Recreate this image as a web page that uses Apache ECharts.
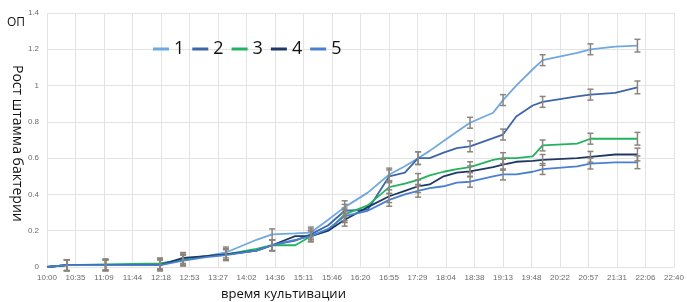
<!DOCTYPE html>
<html>
<head>
<meta charset="utf-8">
<script src="https://cdn.jsdelivr.net/npm/echarts@6/dist/echarts.min.js"></script>
<style>
  html, body { margin: 0; padding: 0; background: #fff; }
  #chart { width: 687px; height: 302px; }
</style>
</head>
<body>
<div id="chart"></div>
<script>
// время, минуты от 10:00
var times = [0, 24, 71, 137, 165, 193, 217, 254, 273, 301, 320, 341, 361, 389, 415,
             434, 450, 464, 481, 497, 513, 541, 553, 569, 589, 601, 643, 659, 689, 716];

var s1 = [0, 0.01, 0.01, 0.01, 0.04, 0.06, 0.08, 0.15, 0.18, 0.185, 0.19, 0.26, 0.33, 0.41, 0.51,
          0.555, 0.60, 0.64, 0.695, 0.745, 0.795, 0.85, 0.92, 1.0, 1.09, 1.14, 1.18, 1.20, 1.215, 1.22];
var s2 = [0, 0.01, 0.01, 0.015, 0.04, 0.06, 0.07, 0.09, 0.12, 0.145, 0.18, 0.23, 0.31, 0.316, 0.50,
          0.52, 0.60, 0.60, 0.63, 0.655, 0.665, 0.71, 0.73, 0.83, 0.89, 0.91, 0.94, 0.95, 0.96, 0.99];
var s3 = [0, 0.01, 0.015, 0.02, 0.04, 0.06, 0.07, 0.10, 0.12, 0.12, 0.17, 0.20, 0.29, 0.34, 0.44,
          0.46, 0.48, 0.505, 0.525, 0.54, 0.55, 0.59, 0.60, 0.60, 0.61, 0.67, 0.68, 0.707, 0.707, 0.707];
var s4 = [0, 0.01, 0.01, 0.01, 0.05, 0.06, 0.07, 0.09, 0.12, 0.17, 0.17, 0.20, 0.26, 0.33, 0.39,
          0.42, 0.445, 0.455, 0.50, 0.52, 0.527, 0.55, 0.564, 0.58, 0.585, 0.59, 0.60, 0.607, 0.62, 0.62];
var s5 = [0, 0.01, 0.01, 0.01, 0.035, 0.055, 0.065, 0.09, 0.12, 0.15, 0.17, 0.21, 0.28, 0.31, 0.37,
          0.40, 0.42, 0.435, 0.445, 0.465, 0.47, 0.50, 0.51, 0.51, 0.525, 0.54, 0.555, 0.57, 0.577, 0.577];

// погрешность (null — без планки)
var errors = [null, 0.03, 0.03, 0.03, 0.03, null, 0.03, null, 0.03, null, 0.03, null, 0.035, null, 0.035,
              null, 0.035, null, null, null, 0.03, null, 0.03, null, null, 0.03, null, 0.03, null, 0.035];

var names = ['1', '2', '3', '4', '5'];
var colors = ['#70a8e0', '#3d66a8', '#22b35f', '#1f3864', '#4a7fd2'];
var allSeries = [s1, s2, s3, s4, s5];

function hhmm(v) {
  var total = Math.round(600 + v);
  var h = Math.floor(total / 60), m = total % 60;
  return h + ':' + (m < 10 ? '0' + m : m);
}

var chart = echarts.init(document.getElementById('chart'));

var series = allSeries.map(function (vals, i) {
  return {
    name: names[i],
    type: 'line',
    data: vals.map(function (v, k) { return [times[k], v]; }),
    showSymbol: false,
    lineStyle: { color: colors[i], width: 1.8 },
    itemStyle: { color: colors[i] },
    z: 2 + i
  };
});

// планки погрешностей
var errData = [];
allSeries.forEach(function (vals) {
  vals.forEach(function (v, k) {
    if (errors[k] != null) errData.push([times[k], v, errors[k]]);
  });
});

series.push({
  type: 'custom',
  data: errData,
  z: 10,
  silent: true,
  renderItem: function (params, api) {
    var x = api.value(0), y = api.value(1), e = api.value(2);
    var hi = api.coord([x, y + e]);
    var lo = api.coord([x, y - e]);
    var w = 3;
    var st = { stroke: '#8b857d', lineWidth: 1.5 };
    return {
      type: 'group',
      children: [
        { type: 'line', shape: { x1: hi[0], y1: hi[1], x2: lo[0], y2: lo[1] }, style: st },
        { type: 'line', shape: { x1: hi[0] - w, y1: hi[1], x2: hi[0] + w, y2: hi[1] }, style: st },
        { type: 'line', shape: { x1: lo[0] - w, y1: lo[1], x2: lo[0] + w, y2: lo[1] }, style: st }
      ]
    };
  }
});

chart.setOption({
  animation: false,
  grid: { left: 47, right: 8, top: 13, bottom: 35 },
  legend: {
    data: names,
    left: 148,
    top: 35,
    icon: 'rect',
    itemWidth: 16,
    itemHeight: 3,
    itemGap: 8,
    textStyle: { fontSize: 18, color: '#111', fontFamily: 'Open Sans' }
  },
  xAxis: {
    type: 'value',
    min: 0,
    max: 760.32,
    interval: 34.56,
    axisLine: { show: false },
    axisTick: { show: false },
    splitLine: { show: true, lineStyle: { color: '#e3e3e3' } },
    axisLabel: {
      formatter: hhmm,
      fontSize: 8,
      color: '#6b6b6b',
      margin: 7,
      showMaxLabel: true,
      showMinLabel: true
    }
  },
  yAxis: {
    type: 'value',
    min: 0,
    max: 1.4,
    interval: 0.2,
    axisLine: { show: false },
    axisTick: { show: false },
    splitLine: { lineStyle: { color: '#e3e3e3' } },
    axisLabel: { fontSize: 8, color: '#6b6b6b', margin: 8 }
  },
  graphic: [
    {
      type: 'text', left: 7, top: 17,
      style: { text: 'ОП', fontSize: 12, fill: '#111', fontFamily: 'Open Sans' }
    },
    {
      type: 'text', x: 24, y: 65, rotation: -Math.PI / 2,
      style: { text: 'Рост штамма бактерии', fontSize: 14, fill: '#111', fontFamily: 'Open Sans' }
    },
    {
      type: 'text', left: 221, top: 288,
      style: { text: 'время культивации', fontSize: 13, fill: '#111', fontFamily: 'Open Sans' }
    }
  ],
  series: series
});
</script>
</body>
</html>
